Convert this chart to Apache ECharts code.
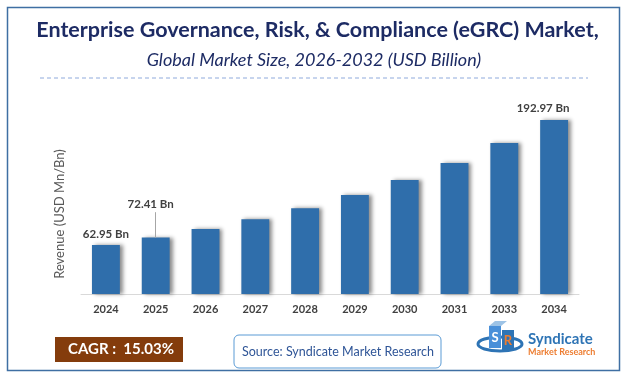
<!DOCTYPE html>
<html>
<head>
<meta charset="utf-8">
<script src="https://cdn.jsdelivr.net/npm/echarts@6/dist/echarts.min.js"></script>
<style>
html,body{margin:0;padding:0;background:#fff;}
#chart{width:627px;height:379px;}
</style>
</head>
<body>
<div id="chart"></div>
<script>
const titleText = "Enterprise Governance, Risk, & Compliance (eGRC) Market,";
const subtitleText = "Global Market Size, 2026-2032 (USD Billion)";
const yAxisName = "Revenue (USD Mn/Bn)";
const categories = ["2024","2025","2026","2027","2028","2029","2030","2031","2033","2034"];
const values = [62.95, 72.41, 83.3, 95.8, 110.2, 126.9, 146.2, 168.0, 193.8, 223.3];
const barLabels = ["62.95 Bn","72.41 Bn","","","","","","","","192.97 Bn"];
const cagrText = "CAGR :  15.03%";
const sourceText = "Source: Syndicate Market Research";

const FONT = "Lato, 'Open Sans', sans-serif";
const chart = echarts.init(document.getElementById('chart'), null, {renderer:'canvas'});

const labelCfg = [
  {distance:5, offset:[0,0]},
  {distance:27, offset:[-5,0]},
  null,null,null,null,null,null,null,
  {distance:6, offset:[-11,0]}
];

const seriesData = values.map((v,i)=>{
  const item = {value:v};
  if (barLabels[i]) {
    item.label = Object.assign({show:true, formatter: barLabels[i]}, labelCfg[i]);
  }
  return item;
});

chart.setOption({
  backgroundColor:'#ffffff',
  animation:false,
  grid:{left:81, top:107, width:498, height:187},
  xAxis:{
    type:'category', data:categories,
    axisLine:{show:true, lineStyle:{color:'#d9d9d9', width:1}},
    axisTick:{show:false},
    axisLabel:{color:'#404040', fontWeight:'bold', fontSize:11, fontFamily:FONT, margin:10}
  },
  yAxis:{
    type:'value', min:0, max:240,
    axisLine:{show:false}, axisTick:{show:false}, axisLabel:{show:false},
    splitLine:{show:false}
  },
  series:[{
    type:'bar', data:seriesData, barWidth:'56%',
    itemStyle:{color:'#2F6EAB', shadowColor:'rgba(0,0,0,0.45)', shadowBlur:4, shadowOffsetX:3, shadowOffsetY:0},
    label:{show:false, position:'top', color:'#404040', fontWeight:'bold', fontSize:11.5, fontFamily:FONT},
    markLine:{
      silent:true, symbol:'none', label:{show:false},
      lineStyle:{color:'#a6a6a6', width:1, type:'solid'},
      data:[[{coord:[1, values[1]]},{coord:[1, 105]}]]
    }
  }],
  graphic:[
    {type:'rect', shape:{x:7.5, y:7.5, width:612, height:363}, style:{fill:'none', stroke:'#3F6FA3', lineWidth:1.5}, silent:true},
    {type:'text', x:317.5, y:30, style:{text:titleText, fill:'#1D2B64', font:"bold 21.5px "+FONT, textAlign:'center', textVerticalAlign:'middle'}},
    {type:'text', x:314, y:60, style:{text:subtitleText, fill:'#1D2B64', font:"italic 18px "+FONT, textAlign:'center', textVerticalAlign:'middle'}},
    {type:'line', shape:{x1:40, y1:78, x2:588, y2:78}, style:{stroke:'#8FAADC', lineWidth:1, lineDash:[4,3]}},
    {type:'text', x:60, y:214, rotation:Math.PI/2, style:{text:yAxisName, fill:'#595959', font:"13px "+FONT, textAlign:'center', textVerticalAlign:'middle'}},
    {type:'rect', shape:{x:55, y:337, width:128, height:25}, style:{fill:'#843C0C'}},
    {type:'text', x:121, y:349.5, style:{text:cagrText, fill:'#ffffff', font:"bold 15px "+FONT, textAlign:'center', textVerticalAlign:'middle'}},
    {type:'rect', shape:{x:234, y:335, width:207, height:33, r:5}, style:{fill:'#ffffff', stroke:'#5B9BD5', lineWidth:1}},
    {type:'text', x:338, y:351.5, style:{text:sourceText, fill:'#2F5597', font:"12.5px "+FONT, textAlign:'center', textVerticalAlign:'middle'}},
    // logo
    {type:'ellipse', shape:{cx:500, cy:344, rx:22, ry:7}, style:{fill:'none', stroke:'#2E74B5', lineWidth:3}},
    {type:'rect', shape:{x:489, y:326, width:12, height:22}, style:{fill:'#4A90D9'}},
    {type:'rect', shape:{x:502, y:330, width:12, height:20}, style:{fill:'#2E74B5'}},
    {type:'polygon', shape:{points:[[489,326],[495,321],[507,321],[501,326]]}, style:{fill:'#9DC3E6'}},
    {type:'text', x:495, y:338, style:{text:'S', fill:'#ffffff', font:"bold 13px "+FONT, textAlign:'center', textVerticalAlign:'middle'}},
    {type:'text', x:508, y:341, style:{text:'R', fill:'#ED7D31', font:"bold 13px "+FONT, textAlign:'center', textVerticalAlign:'middle'}},
    {type:'text', x:528, y:339, style:{text:'Syndicate', fill:'#2E74B5', font:"bold 15px "+FONT, textVerticalAlign:'middle'}},
    {type:'text', x:528, y:352, style:{text:'Market Research', fill:'#ED7D31', font:"bold 9px "+FONT, textVerticalAlign:'middle'}}
  ]
});
</script>
</body>
</html>
